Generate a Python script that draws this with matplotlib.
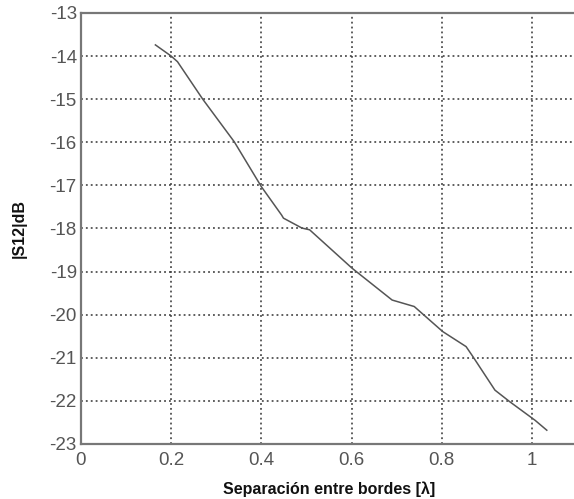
import matplotlib
matplotlib.use("Agg")
import matplotlib.pyplot as plt

plt.rcParams['font.family'] = ['Liberation Sans', 'DejaVu Sans']
plt.rcParams['axes.unicode_minus'] = False

x_vals = [0.165, 0.200, 0.214, 0.270, 0.340, 0.400, 0.445, 0.449, 0.490, 0.507,
          0.601, 0.690, 0.739, 0.802, 0.854, 0.869, 0.918, 0.951, 1.007, 1.033]
s12_db = [-13.74, -14.00, -14.13, -15.00, -15.99, -17.03, -17.69, -17.76, -17.99, -18.03,
          -18.92, -19.66, -19.81, -20.39, -20.74, -20.97, -21.75, -22.02, -22.45, -22.68]

xticks = [0, 0.2, 0.4, 0.6, 0.8, 1]
xticklabels = ['0', '0.2', '0.4', '0.6', '0.8', '1']
yticks = list(range(-23, -12))

W, H = 574, 499
fig = plt.figure(figsize=(W / 100, H / 100), dpi=100)
left, right, top, bottom = 81, 577, 13, 444
ax = fig.add_axes([left / W, 1 - bottom / H, (right - left) / W, (bottom - top) / H])

ax.plot(x_vals, s12_db, color='#555555', lw=1.1)
ax.set_xlim(0, 1.1)
ax.set_ylim(-23, -13)
ax.set_xticks(xticks)
ax.set_xticklabels(xticklabels)
ax.set_yticks(yticks)
ax.grid(True, color='#333333', linestyle=(0, (1.2, 2.0)), lw=1.1)
for s in ax.spines.values():
    s.set_color('#777777')
    s.set_linewidth(1.6)
ax.spines['right'].set_visible(False)
ax.tick_params(direction='in', length=0, labelsize=13.5, colors='#555555')
ax.tick_params(axis='x', pad=6)
ax.tick_params(axis='y', pad=3)
ax.set_xlabel('Separación entre bordes [λ]', fontsize=11.5, fontweight='bold', labelpad=9, color='#111111')
ax.set_ylabel('|S12|dB', fontsize=11.5, fontweight='bold', labelpad=16, color='#111111')

fig.savefig('out.png', dpi=100)
